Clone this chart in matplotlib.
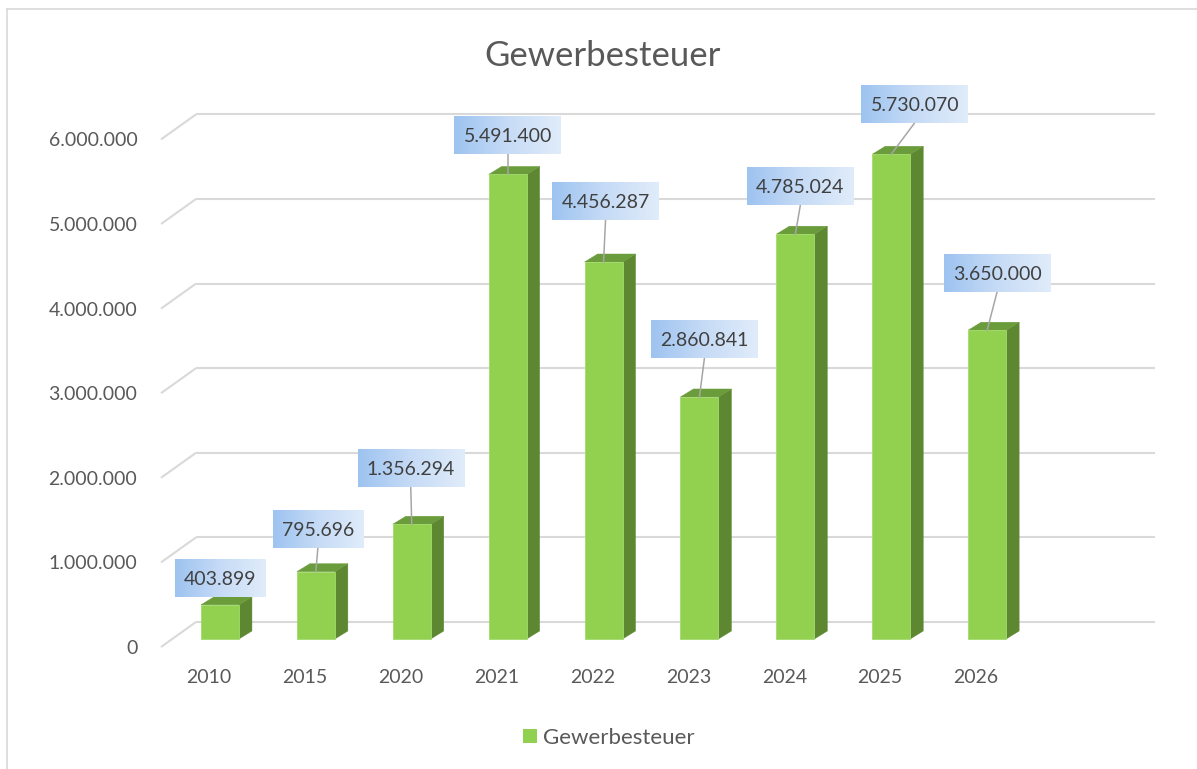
import numpy as np
import matplotlib
matplotlib.use('Agg')
import matplotlib.pyplot as plt
from matplotlib.transforms import IdentityTransform, ScaledTranslation, Bbox
from matplotlib.image import BboxImage
from matplotlib.patches import Polygon, Rectangle
from matplotlib.lines import Line2D
from matplotlib.colors import LinearSegmentedColormap

# ---------------- data ----------------
years = ['2010', '2015', '2020', '2021', '2022', '2023', '2024', '2025', '2026']
values = [403899, 795696, 1356294, 5491400, 4456287, 2860841, 4785024, 5730070, 3650000]
ytick_values = [0, 1000000, 2000000, 3000000, 4000000, 5000000, 6000000]
ytick_labels = ['0', '1.000.000', '2.000.000', '3.000.000', '4.000.000', '5.000.000', '6.000.000']
value_labels = ['403.899', '795.696', '1.356.294', '5.491.400', '4.456.287',
                '2.860.841', '4.785.024', '5.730.070', '3.650.000']
title = 'Gewerbesteuer'
series_name = 'Gewerbesteuer'

# label box centre offsets in pixels from the bar's front-top centre (right, down)
label_offsets = [(0, -26.5), (2, -42.5), (-1, -56), (0, -39.5), (2, -61),
                 (5, -58), (5, -48), (23.5, -50.5), (10, -57.5)]

# ---------------- style ----------------
FONT = ['Lato', 'DejaVu Sans']
plt.rcParams['font.family'] = FONT
C_FRONT = '#92D050'
C_TOP = '#6B9C3C'
C_SIDE = '#5E8732'
C_GRID = '#D9D9D9'
C_TXT = '#595959'
C_LBL = '#404040'

W, H = 1197, 769
DPI = 100
fig = plt.figure(figsize=(W / DPI, H / DPI), dpi=DPI)
fig.patch.set_facecolor('white')


def fx(px):
    return px / W


def fy(py):
    return 1 - py / H


def off(dx, dy):
    """pixel offset (right, down)"""
    return ScaledTranslation(dx / DPI, -dy / DPI, fig.dpi_scale_trans)


SLOT = 95.9          # px per category
PXM = 84.6           # px per 1.000.000
left = 161
right = left + 10 * SLOT
bottom = 647
top = bottom - 6 * PXM
ax = fig.add_axes([fx(left), fy(bottom), fx(right) - fx(left), fy(top) - fy(bottom)])
ax.set_xlim(-0.5, 9.5)
ax.set_ylim(0, 6e6)
for s in ax.spines.values():
    s.set_visible(False)
ax.set_facecolor('none')

# ticks
x = np.arange(len(years))
ax.set_xticks(x, years)
ax.set_yticks(ytick_values, ytick_labels)
ax.tick_params(axis='both', length=0, labelcolor=C_TXT, labelsize=14)
ax.tick_params(axis='y', pad=17)
ax.tick_params(axis='x', pad=16)

# back wall gridlines with side diagonals
BACK_DX, BACK_DY = 35, 25
bdx = BACK_DX / SLOT
bdy = BACK_DY / PXM * 1e6
for v in ytick_values:
    ax.plot([-0.5, -0.5 + bdx], [v, v + bdy], color=C_GRID, lw=1.5, clip_on=False, zorder=1,
            solid_capstyle='butt')
    ax.plot([-0.5 + bdx, 9.5 + bdx], [v + bdy, v + bdy], color=C_GRID, lw=1.5, clip_on=False,
            zorder=1, solid_capstyle='butt')

# bars (3D look)
BAR_W = 38 / SLOT
bar_tr = ax.transData + off(11, -8)
DX = 13 / SLOT
DY = 8 / PXM * 1e6
ax.bar(x, values, width=BAR_W, color=C_FRONT, transform=bar_tr, zorder=3,
       edgecolor='#A4DA6E', linewidth=0.6, clip_on=False)
for xi, v in zip(x, values):
    xr = xi + BAR_W / 2
    xl = xi - BAR_W / 2
    side = Polygon([(xr, 0), (xr + DX, DY), (xr + DX, v + DY), (xr, v)], closed=True,
                   facecolor=C_SIDE, edgecolor=C_SIDE, lw=0.3, transform=bar_tr, zorder=2.9,
                   clip_on=False)
    topf = Polygon([(xl, v), (xr, v), (xr + DX, v + DY), (xl + DX, v + DY)], closed=True,
                   facecolor=C_TOP, edgecolor=C_TOP, lw=0.3, transform=bar_tr, zorder=2.9,
                   clip_on=False)
    ax.add_patch(side)
    ax.add_patch(topf)

# data labels with gradient boxes
cmap = LinearSegmentedColormap.from_list('lbl', ['#9DC3F0', '#C6DBF6', '#E0ECFA'])
fig.canvas.draw()
renderer = fig.canvas.get_renderer()
grad = np.linspace(0, 1, 256).reshape(1, -1)
for xi, v, s, (odx, ody) in zip(x, values, value_labels, label_offsets):
    axp, ayp = bar_tr.transform((xi, v))
    cx = axp + odx
    cy = ayp - ody
    t = ax.text(cx, cy, s, transform=IdentityTransform(), ha='center', va='center_baseline',
                fontsize=14, color=C_LBL, zorder=6, clip_on=False)
    tw = t.get_window_extent(renderer).width
    bw, bh = tw + 18, 38
    bb = Bbox.from_bounds(cx - bw / 2, cy - bh / 2, bw, bh)
    img = BboxImage(bb, cmap=cmap, interpolation='bilinear', zorder=5)
    img.set_data(grad)
    img.set_clip_on(False)
    ax.add_artist(img)
    if (cy - bh / 2) - ayp > 12:
        ln = Line2D([cx, axp], [cy - bh / 2, ayp], transform=IdentityTransform(),
                    color='#A6A6A6', lw=1.1, zorder=4, clip_on=False)
        ax.add_line(ln)

# title
fig.text(fx(603), fy(66), title, ha='center', va='baseline', fontsize=25, color=C_TXT)

# legend
fig.patches.append(Rectangle((fx(523), fy(743)), fx(14), 14 / H, transform=fig.transFigure,
                             facecolor=C_FRONT, edgecolor='none'))
fig.text(fx(543), fy(736), series_name, ha='left', va='center_baseline', fontsize=16, color=C_TXT)

# chart border (left and top visible)
fig.add_artist(Line2D([fx(7), fx(7)], [fy(9), 0], transform=fig.transFigure, color='#D9D9D9', lw=1.2))
fig.add_artist(Line2D([fx(7), 1], [fy(9), fy(9)], transform=fig.transFigure, color='#D9D9D9', lw=1.2))

fig.savefig('out.png', dpi=DPI, facecolor='white')
